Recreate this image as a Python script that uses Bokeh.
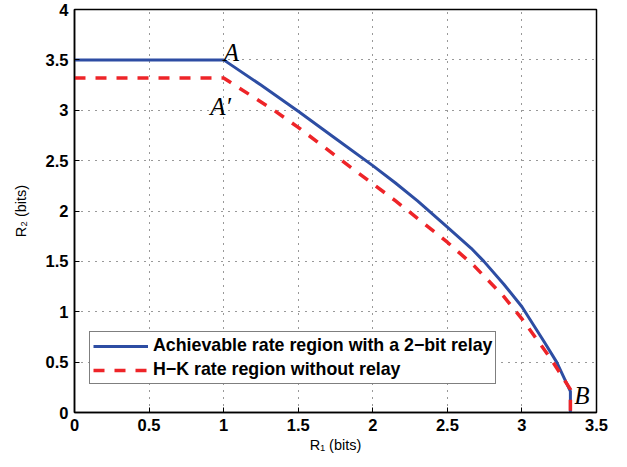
from bokeh.plotting import figure
from bokeh.models import Range1d, FixedTicker, Legend, LegendItem, ColumnDataSource
from bokeh.core.properties import value
from bokeh.embed import file_html
from bokeh.resources import INLINE

# Achievable rate region with a 2-bit relay
blue_r1 = [0.0, 1.0, 1.25, 1.5, 1.75, 2.0, 2.15, 2.3, 2.5, 2.66, 2.745, 2.88, 3.0, 3.15, 3.233, 3.325, 3.325]
blue_r2 = [3.5, 3.5, 3.25, 2.99, 2.72, 2.45, 2.28, 2.1, 1.84, 1.63, 1.5, 1.27, 1.05, 0.7, 0.5, 0.21, 0.0]
# H-K rate region without relay
red_r1 = [0.0, 1.0, 1.337, 1.5, 1.784, 2.0, 2.153, 2.238, 2.5, 2.678, 2.879, 3.0, 3.193, 3.325, 3.325]
red_r2 = [3.32, 3.32, 3.0, 2.83, 2.51, 2.27, 2.1, 2.0, 1.69, 1.458, 1.15, 0.93, 0.535, 0.23, 0.0]

x_ticks = [0, 0.5, 1, 1.5, 2, 2.5, 3, 3.5]
x_tick_labels = ["0", "0.5", "1", "1.5", "2", "2.5", "3", "3.5"]
y_ticks = [0, 0.5, 1, 1.5, 2, 2.5, 3, 3.5, 4]
y_tick_labels = ["0", "0.5", "1", "1.5", "2", "2.5", "3", "3.5", "4"]

point_labels = ["A", "A\u2032", "B"]
point_x = [1.0, 0.91, 3.35]
point_y = [3.57, 3.04, 0.17]

legend_labels = ["Achievable rate region with a 2\u2212bit relay", "H\u2212K rate region without relay"]

p = figure(frame_width=522, frame_height=403, min_border_left=74, min_border_top=9,
           min_border_right=15, min_border_bottom=39,
           x_range=Range1d(0, 3.5), y_range=Range1d(0, 4),
           output_backend="svg", toolbar_location=None)

p.background_fill_color = "white"
p.border_fill_color = "white"
p.outline_line_color = "black"
p.outline_line_width = 1.5

for ax, ticks, labels in ((p.xaxis[0], x_ticks, x_tick_labels), (p.yaxis[0], y_ticks, y_tick_labels)):
    ax.ticker = FixedTicker(ticks=ticks)
    ax.major_label_overrides = {t: l for t, l in zip(ticks, labels)}
    ax.major_label_text_font = "Liberation Sans"
    ax.major_label_text_font_style = "bold"
    ax.major_label_text_font_size = "16.5px"
    ax.major_label_text_color = "black"
    ax.major_tick_in = 5
    ax.major_tick_out = 0
    ax.minor_tick_in = 0
    ax.minor_tick_out = 0
    ax.axis_line_color = "black"
    ax.axis_line_width = 1.5
    ax.major_tick_line_color = "black"
    ax.axis_label_text_font = "Liberation Sans"
    ax.axis_label_text_font_style = "normal"
    ax.axis_label_text_font_size = "14.5px"
    ax.axis_label_text_color = "black"

p.xaxis.axis_label = "R\u2081 (bits)"
p.yaxis.axis_label = "R\u2082 (bits)"
p.xaxis.major_label_standoff = 6
p.xaxis.axis_label_standoff = 3
p.yaxis.major_label_standoff = 6
p.yaxis.axis_label_standoff = 14

p.grid.grid_line_color = "#333333"
p.grid.grid_line_dash = "1 6"
p.grid.grid_line_width = 1

blue = p.line(blue_r1, blue_r2, line_color="#2d4da3", line_width=3, line_join="round")
red = p.line(red_r1, red_r2, line_color="#ee2428", line_width=3.5, line_dash="11 10")

src = ColumnDataSource(dict(x=point_x, y=point_y, t=point_labels))
p.text(x="x", y="y", text="t", source=src, text_font=value("Liberation Serif"),
       text_font_style="italic", text_font_size="25px", text_color="black",
       text_baseline="alphabetic", text_align="left")

legend = Legend(items=[LegendItem(label=legend_labels[0], renderers=[blue]),
                       LegendItem(label=legend_labels[1], renderers=[red])],
                location=(15, 28))
legend.label_text_font = "Liberation Sans"
legend.label_text_font_style = "bold"
legend.label_text_font_size = "17.8px"
legend.label_text_color = "black"
legend.border_line_color = "black"
legend.border_line_width = 1.5
legend.padding = 3
legend.spacing = 3
legend.glyph_width = 55
legend.glyph_height = 18
legend.label_height = 18
legend.label_standoff = 5
legend.margin = 0
legend.background_fill_alpha = 1
p.add_layout(legend)

open("out.html", "w").write(file_html(p, INLINE))
